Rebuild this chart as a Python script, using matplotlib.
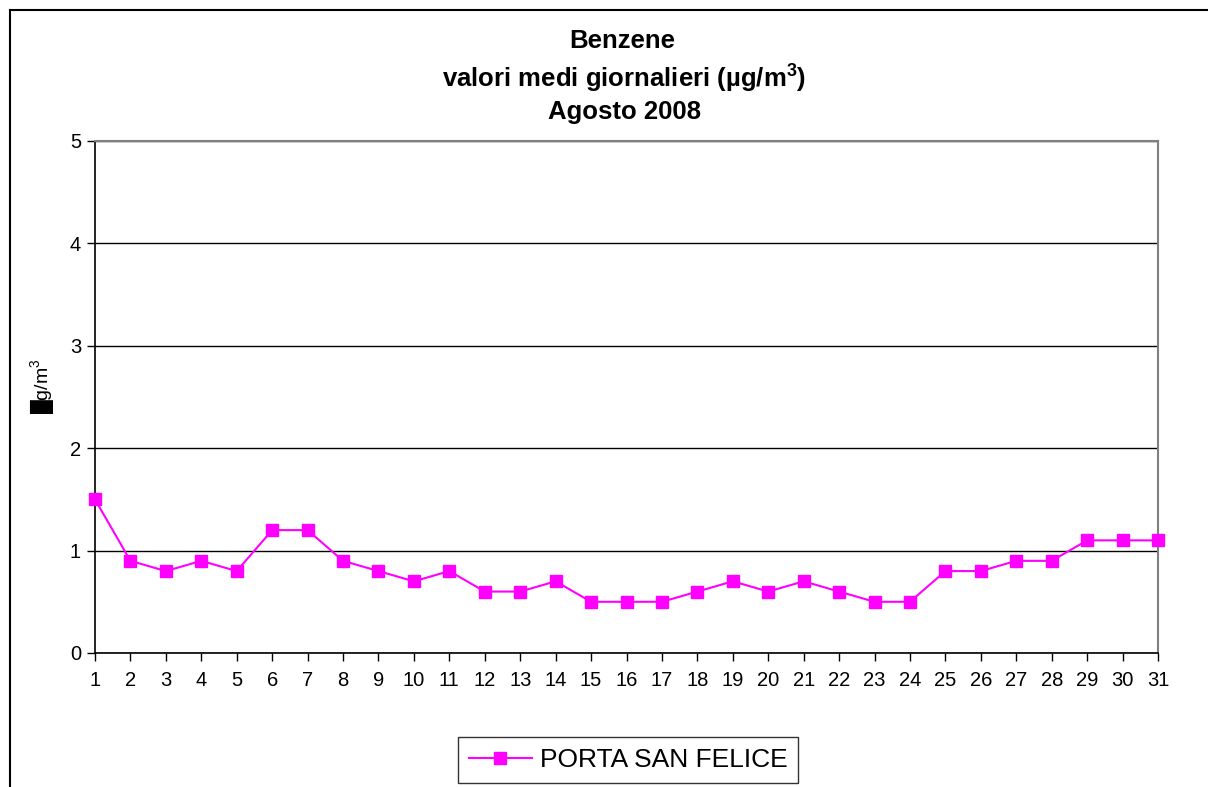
import matplotlib
matplotlib.use("Agg")
import matplotlib.pyplot as plt
from matplotlib.lines import Line2D

plt.rcParams["font.family"] = ["Liberation Sans", "DejaVu Sans"]
plt.rcParams["mathtext.fontset"] = "custom"
plt.rcParams["mathtext.rm"] = "Liberation Sans"
plt.rcParams["mathtext.bf"] = "Liberation Sans:bold"

# daily mean values, August 2008
days = list(range(1, 32))
porta_san_felice = [1.5, 0.9, 0.8, 0.9, 0.8, 1.2, 1.2, 0.9, 0.8, 0.7,
                    0.8, 0.6, 0.6, 0.7, 0.5, 0.5, 0.5, 0.6, 0.7, 0.6,
                    0.7, 0.6, 0.5, 0.5, 0.8, 0.8, 0.9, 0.9, 1.1, 1.1, 1.1]
y_ticks = [0, 1, 2, 3, 4, 5]
series_label = "PORTA SAN FELICE"

W, H = 1208, 787
fig = plt.figure(figsize=(W / 100, H / 100), dpi=100)
ax = fig.add_axes([95 / W, 1 - 653 / H, (1158 - 95) / W, (653 - 141) / H])

ax.plot(days, porta_san_felice, color="#FF00FF", lw=1.5, marker="s",
        markersize=9, markeredgecolor="#FF00FF", label=series_label,
        clip_on=False, zorder=3)

ax.set_xlim(1, 31)
ax.set_ylim(0, 5)
ax.set_xticks(days)
ax.set_yticks(y_ticks)
ax.tick_params(axis="both", direction="out", length=6, width=1, labelsize=14.5,
               color="black")
ax.tick_params(axis="x", pad=7)
ax.tick_params(axis="y", pad=4)
ax.yaxis.grid(True, color="black", lw=1)
ax.set_axisbelow(True)

for side in ["top", "right"]:
    ax.spines[side].set_color("#808080")
    ax.spines[side].set_linewidth(1.5)
for side in ["left", "bottom"]:
    ax.spines[side].set_color("black")
    ax.spines[side].set_linewidth(1.2)

# title
fig.text(622 / W, 1 - 41 / H, "Benzene", ha="center", va="center",
         fontsize=18.5, fontweight="bold")
fig.text(624 / W, 1 - 78 / H, "valori medi giornalieri (µg/m$^{\\mathregular{3}}$)",
         ha="center", va="center", fontsize=18.5, fontweight="bold")
fig.text(624 / W, 1 - 112 / H, "Agosto 2008", ha="center", va="center",
         fontsize=18.5, fontweight="bold")

# y label (the mu shows as a block in the original)
fig.text(42 / W, 1 - 386 / H, "\u2588g/m$^{\\mathregular{3}}$", rotation=90,
         ha="center", va="center", fontsize=14)

leg = ax.legend(loc="center", bbox_to_anchor=(628 / W, 1 - 760 / H),
                bbox_transform=fig.transFigure, frameon=True, fancybox=False,
                fontsize=19, handlelength=2.4, handletextpad=0.3,
                borderpad=0.4, borderaxespad=0)
leg.get_frame().set_edgecolor("black")
leg.get_frame().set_linewidth(1)

# outer chart frame
fig.add_artist(Line2D([10 / W, 1], [1 - 10 / H, 1 - 10 / H], color="black", lw=1.5))
fig.add_artist(Line2D([10 / W, 10 / W], [0, 1 - 10 / H], color="black", lw=1.5))

fig.savefig("out.png", dpi=100)
